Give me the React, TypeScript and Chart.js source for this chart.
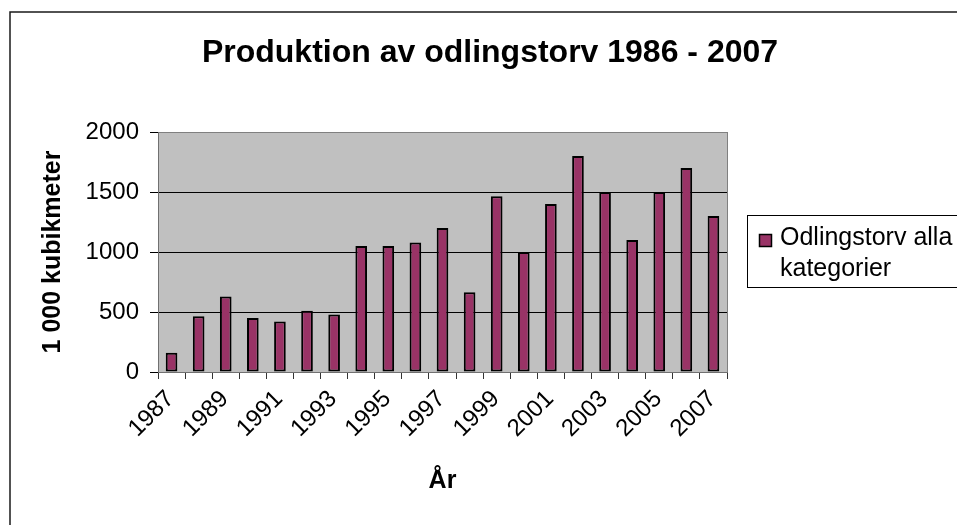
import React, { useEffect, useRef } from 'react';
import { Chart, registerables } from 'chart.js';

Chart.register(...registerables);

const years = ['1987', '1988', '1989', '1990', '1991', '1992', '1993', '1994', '1995', '1996', '1997', '1998', '1999', '2000', '2001', '2002', '2003', '2004', '2005', '2006', '2007'];
const production = [160, 465, 630, 450, 420, 510, 480, 1050, 1050, 1080, 1200, 665, 1465, 1000, 1400, 1800, 1500, 1100, 1500, 1700, 1300];
const yMin = 0;
const yMax = 2000;
const yStep = 500;
const titleText = 'Produktion av odlingstorv 1986 - 2007';
const yTitle = '1 000 kubikmeter';
const xTitle = 'År';
const legendLines = ['Odlingstorv alla', 'kategorier'];

const FONT = "'Liberation Sans', Arial, Helvetica, sans-serif";
const BAR = '#993366';

export default function App() {
  const ref = useRef<HTMLCanvasElement>(null);

  useEffect(() => {
    const canvas = ref.current;
    if (!canvas) return;

    const decor = {
      id: 'decor',
      beforeDraw(chart: any) {
        const { ctx, chartArea: a } = chart;
        ctx.save();
        ctx.fillStyle = '#ffffff';
        ctx.fillRect(0, 0, chart.width, chart.height);
        ctx.fillStyle = '#C0C0C0';
        ctx.fillRect(a.left, a.top, a.right - a.left, a.bottom - a.top);
        ctx.strokeStyle = '#1a1a1a';
        ctx.lineWidth = 1.5;
        ctx.beginPath();
        ctx.moveTo(10, chart.height + 5);
        ctx.lineTo(10, 12);
        ctx.lineTo(chart.width + 5, 12);
        ctx.stroke();
        ctx.restore();
      },
      beforeDatasetsDraw(chart: any) {
        const { ctx, chartArea: a } = chart;
        ctx.save();
        ctx.strokeStyle = '#808080';
        ctx.lineWidth = 1;
        ctx.beginPath();
        ctx.moveTo(Math.round(a.right) + 0.5, a.top);
        ctx.lineTo(Math.round(a.right) + 0.5, a.bottom);
        ctx.stroke();
        ctx.restore();
      },
      afterDraw(chart: any) {
        const { ctx } = chart;
        ctx.save();
        ctx.fillStyle = '#000';
        ctx.font = `bold 32px ${FONT}`;
        ctx.textAlign = 'center';
        ctx.textBaseline = 'middle';
        ctx.fillText(titleText, 490, 53);

        // legend
        ctx.strokeStyle = '#000';
        ctx.lineWidth = 1;
        ctx.strokeRect(747.5, 215.5, 230, 72);
        ctx.fillStyle = BAR;
        ctx.fillRect(759, 234, 13, 13);
        ctx.lineWidth = 1.5;
        ctx.strokeRect(759.5, 234.5, 12, 12);
        ctx.fillStyle = '#000';
        ctx.font = `25px ${FONT}`;
        ctx.textAlign = 'left';
        ctx.textBaseline = 'middle';
        ctx.fillText(legendLines[0], 780, 238);
        ctx.fillText(legendLines[1], 780, 269);
        ctx.restore();
      },
    };

    const chart = new Chart(canvas, {
      type: 'bar',
      data: {
        labels: years,
        datasets: [
          {
            label: legendLines.join(' '),
            data: production,
            backgroundColor: BAR,
            borderColor: '#000',
            borderWidth: 2,
            borderSkipped: false,
            barPercentage: 0.43,
            categoryPercentage: 1.0,
          },
        ],
      },
      options: {
        responsive: false,
        animation: false,
        events: [],
        layout: { padding: { left: 0, top: 132, right: 957 - 727, bottom: 0 } },
        plugins: {
          legend: { display: false },
          title: { display: false },
          tooltip: { enabled: false },
        },
        scales: {
          x: {
            ticks: {
              autoSkip: false,
              maxRotation: 45,
              minRotation: 45,
              font: { family: FONT, size: 24 },
              color: '#000',
              padding: 6,
              labelOffset: -1,
              callback: (_v: any, i: number) => (i % 2 === 0 ? years[i] : ''),
            },
            grid: { drawOnChartArea: false, tickLength: 7, color: '#333', offset: true },
            border: { color: '#707070', width: 1 },
            title: {
              display: true,
              text: xTitle,
              color: '#000',
              font: { family: FONT, size: 25, weight: 'bold' },
              padding: { top: 0, bottom: 29 },
            },
            afterFit: (s: any) => {
              s.height = 525 - 372;
            },
          },
          y: {
            min: yMin,
            max: yMax,
            ticks: {
              stepSize: yStep,
              font: { family: FONT, size: 24 },
              color: '#000',
              padding: 11,
              callback: (v: any) => String(v),
            },
            grid: {
              color: (c: any) => (c.tick && c.tick.value === yMax ? '#808080' : '#000'),
              tickColor: '#000',
              tickLength: 8,
              lineWidth: 1,
            },
            border: { color: '#707070', width: 1 },
            title: {
              display: true,
              text: yTitle,
              color: '#000',
              font: { family: FONT, size: 25, weight: 'bold' },
              padding: { top: 38, bottom: 0 },
            },
            afterFit: (s: any) => {
              s.width = 158;
            },
          },
        },
      },
      plugins: [decor],
    });

    return () => chart.destroy();
  }, []);

  return (
    <div style={{ position: 'absolute', left: 0, top: 0, width: 957, height: 525 }}>
      <canvas ref={ref} width={957} height={525} style={{ display: 'block' }} />
    </div>
  );
}
